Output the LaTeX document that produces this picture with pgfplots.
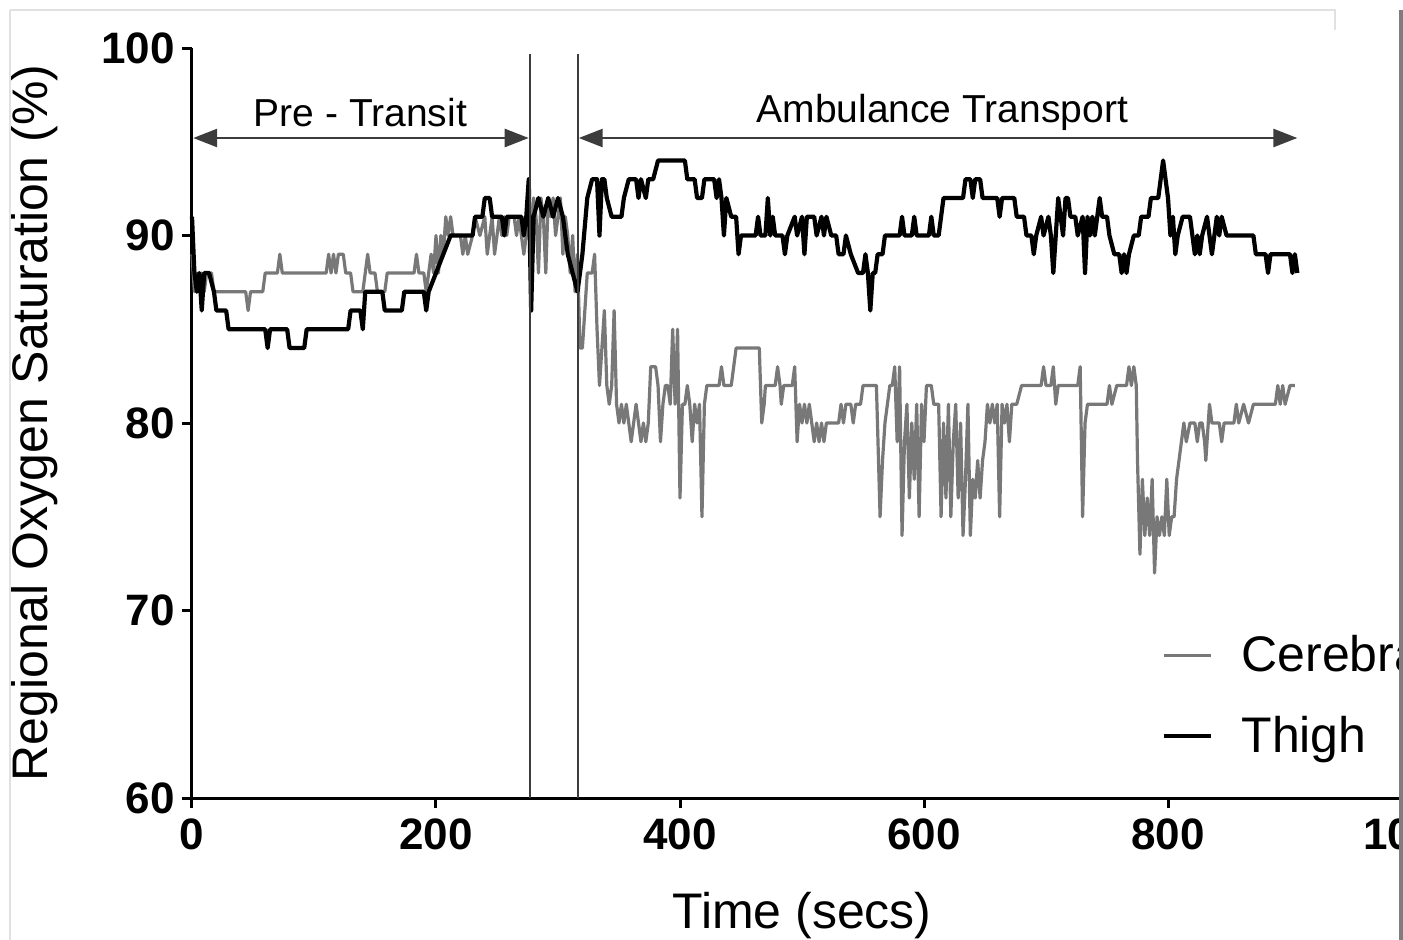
\documentclass[border=0pt]{standalone}
\usepackage{fontspec}
\setmainfont{Liberation Sans}
\usepackage{pgfplots}
\pgfplotsset{compat=1.18}
\usetikzlibrary{arrows.meta}
\definecolor{cergray}{RGB}{120,120,120}
\definecolor{vline}{RGB}{60,60,60}
\definecolor{framegray}{RGB}{225,225,225}
\definecolor{bargray}{RGB}{125,125,125}
\begin{document}
\begin{tikzpicture}
\useasboundingbox (-96pt,-70.5pt) rectangle (605.5pt,399pt);
\clip (-96pt,-70.5pt) rectangle (605.5pt,399pt);
\begin{axis}[
  at={(0pt,0pt)}, anchor=south west,
  scale only axis, width=610pt, height=375pt,
  xmin=0, xmax=1000, ymin=60, ymax=100,
  axis x line*=bottom, axis y line*=left,
  axis line style={line width=1.5pt, -},
  xtick={0,200,400,600,800,1000}, ytick={60,70,80,90,100},
  tick style={line width=1.5pt, black}, major tick length=5pt, tick align=outside,
  /pgf/number format/assume math mode=true,
  /pgf/number format/1000 sep={},
  ticklabel style={font=\fontsize{22}{24}\selectfont\bfseries},
  xticklabel style={yshift=-2pt},
  xlabel={Time (secs)}, ylabel={Regional Oxygen Saturation (\%)},
  label style={font=\fontsize{25}{28}\selectfont},
  xlabel style={at={(axis description cs:0.5,-0.157)}, anchor=center},
  ylabel style={at={(axis description cs:-0.1287,0.5)}, anchor=center},
  clip=false,
  legend style={at={(axis cs:795,68.9)}, anchor=north west, draw=none, fill=none,
    font=\fontsize{25}{27}\selectfont, row sep=17pt, inner sep=0pt},
  legend cell align=left,
  legend image code/.code={\draw[#1] (0pt,0pt) -- (23.5pt,0pt); \path (35.5pt,0pt);},
]
\addplot[cergray, line width=1.6pt, line join=round] coordinates {
(0,89)(2,87)(4,88)(6,87)(8,88)(10,87)(12,88)(16,88)(18,87)(20,87)(44,87)(46,86)(48,87)
(58,87)(60,88)(70,88)(72,89)(74,88)(110,88)(112,89)(114,88)(116,89)(118,88)(120,89)
(124,89)(126,88)(130,88)(132,87)(140,87)(142,88)(144,89)(146,88)(150,88)(152,87)(158,87)
(160,88)(182,88)(184,89)(186,88)(190,88)(192,87)(194,88)(196,89)(198,88)(200,90)(202,88)
(204,90)(206,89)(208,91)(210,90)(212,91)(214,90)(220,90)(222,89)(224,90)(226,89)(230,90)
(232,91)(236,90)(240,91)(242,89)(244,90)(246,91)(248,89)(250,90)(252,91)(254,90)(256,91)
(258,90)(260,91)(264,91)(266,90)(268,91)(270,90)(272,89)(274,90)(276,92)(278,88)(280,92)
(282,91)(284,88)(286,92)(288,91)(290,88)(292,92)(294,91)(296,92)(298,90)(300,91)(302,92)
(304,89)(306,91)(308,90)(310,88)(312,90)(314,87)(316,89)(318,84)(320,84)(322,86)(324,88)
(328,88)(330,89)(332,85)(334,82)(336,84)(338,86)(340,82)(342,81)(344,82)(346,86)(348,81)
(350,80)(352,81)(354,80)(356,81)(358,80)(360,79)(362,80)(364,81)(366,80)(368,79)(370,80)
(372,79)(374,80)(376,83)(380,83)(382,82)(384,79)(386,81)(388,82)(390,82)(392,81)(394,85)
(396,81)(398,85)(400,76)(402,81)(404,81)(406,82)(408,81)(410,79)(412,81)(414,80)(416,81)
(418,75)(420,81)(422,82)(432,82)(434,83)(436,82)(442,82)(444,83)(446,84)(465,84)(467,80)
(469,81)(470,82)(478,82)(480,83)(482,82)(483,81)(485,82)(492,82)(494,83)(496,79)(498,81)
(500,80)(502,81)(504,80)(506,81)(508,80)(510,79)(512,80)(514,79)(516,80)(518,79)(520,80)
(530,80)(532,81)(534,80)(536,81)(540,81)(542,80)(544,81)(548,81)(550,82)(561,82)(564,75)
(566,78)(568,80)(570,81)(572,82)(574,82)(576,83)(578,79)(580,83)(582,74)(584,79)(586,81)
(588,76)(590,80)(592,77)(594,81)(596,75)(598,81)(600,79)(602,82)(606,82)(608,81)(612,81)
(614,75)(616,80)(618,76)(620,81)(622,75)(624,79)(626,81)(628,76)(630,80)(632,74)(634,77)
(636,81)(638,74)(640,77)(642,76)(644,78)(646,76)(648,78)(650,79)(652,81)(654,80)(656,81)
(658,80)(660,81)(662,75)(664,81)(666,80)(668,81)(670,79)(672,81)(676,81)(680,82)(696,82)
(698,83)(700,82)(704,82)(706,83)(708,81)(710,82)(726,82)(728,83)(730,75)(732,80)(734,81)
(750,81)(752,82)(754,81)(758,82)(766,82)(768,83)(770,82)(772,83)(774,82)(775,78)(777,73)
(779,77)(781,74)(783,76)(785,74)(787,77)(789,72)(791,75)(793,74)(795,75)(797,74)(799,77)
(801,74)(803,75)(805,75)(807,77)(809,78)(811,79)(813,80)(815,79)(818,80)(822,80)(824,79)
(826,80)(828,80)(830,79)(831,78)(834,81)(836,80)(842,80)(844,79)(846,80)(854,80)(856,81)
(858,80)(862,81)(866,80)(870,81)(888,81)(890,82)(892,81)(894,82)(896,81)(900,82)(904,82)
};
\addlegendentry{Cerebral}
\addplot[black, line width=2.1pt, line join=round] coordinates {
(0,91)(2,88)(4,87)(6,88)(8,86)(10,88)(14,88)(18,87)(20,86)(28,86)(30,85)(60,85)(62,84)
(64,85)(78,85)(80,84)(92,84)(94,85)(128,85)(130,86)(138,86)(140,85)(142,87)(156,87)
(158,86)(172,86)(174,87)(190,87)(192,86)(194,87)(200,88)(206,89)(212,90)(230,90)(232,91)
(238,91)(240,92)(244,92)(246,91)(254,91)(256,90)(258,91)(270,91)(272,90)(274,91)(276,93)
(278,86)(280,91)(284,92)(288,91)(292,92)(296,91)(300,92)(304,91)(308,89)(312,88)(316,87)
(320,89)(324,92)(328,93)(332,93)(334,90)(336,93)(338,93)(340,92)(344,91)(352,91)(354,92)
(358,93)(364,93)(366,92)(368,93)(372,92)(374,93)(378,93)(382,94)(404,94)(406,93)(412,93)
(414,92)(418,92)(420,93)(428,93)(430,92)(432,93)(434,92)(436,90)(438,92)(442,91)(446,91)
(448,89)(450,90)(462,90)(464,91)(466,90)(470,90)(472,92)(474,90)(476,91)(478,90)(484,90)
(486,89)(488,90)(494,91)(496,90)(500,91)(502,89)(504,91)(510,91)(512,90)(516,91)(518,90)
(520,91)(524,90)(528,90)(530,89)(534,89)(536,90)(540,89)(546,88)(550,88)(552,89)(554,88)
(556,86)(558,88)(560,88)(562,89)(566,89)(568,90)(580,90)(582,91)(584,90)(590,90)(592,91)
(594,90)(604,90)(606,91)(608,90)(612,90)(614,91)(616,92)(632,92)(634,93)(638,93)(640,92)
(642,93)(646,93)(648,92)(660,92)(662,91)(664,92)(674,92)(676,91)(682,91)(684,90)(688,90)
(690,89)(692,90)(696,91)(698,90)(702,91)(704,90)(706,88)(708,90)(710,92)(712,91)(714,90)
(716,92)(718,92)(720,91)(724,91)(726,90)(730,91)(732,88)(734,91)(736,90)(738,91)(740,90)
(742,91)(744,92)(746,91)(750,91)(752,90)(756,89)(760,89)(762,88)(764,89)(766,88)(768,89)
(772,90)(776,90)(778,91)(784,91)(786,92)(792,92)(796,94)(798,93)(800,92)(802,90)(804,91)
(806,89)(808,90)(812,91)(818,91)(820,90)(822,89)(824,90)(826,89)(828,90)(832,91)(834,90)
(836,89)(838,90)(840,91)(842,90)(844,91)(848,90)(870,90)(872,89)(880,89)(882,88)(884,89)
(900,89)(902,88)(904,89)(906,88)
};
\addlegendentry{Thigh}
\draw[vline, line width=1pt] (axis cs:277,60) -- (axis cs:277,99.7);
\draw[vline, line width=1pt] (axis cs:316,60) -- (axis cs:316,99.7);
\draw[vline, line width=1.3pt, {Triangle[length=12pt,width=9pt]}-{Triangle[length=12pt,width=9pt]}]
  (axis cs:1,95.2) -- (axis cs:276,95.2);
\draw[vline, line width=1.3pt, {Triangle[length=12pt,width=9pt]}-{Triangle[length=12pt,width=9pt]}]
  (axis cs:317,95.2) -- (axis cs:906,95.2);
\node[font=\fontsize{19.5}{22}\selectfont, anchor=center] at (axis cs:138,96.55) {Pre - Transit};
\node[font=\fontsize{19.5}{22}\selectfont, anchor=center] at (axis cs:615,96.55) {Ambulance Transport};
\end{axis}
\draw[framegray, line width=1pt] (-91pt,394pt) -- (571.5pt,394pt) -- (571.5pt,384pt);
\draw[framegray, line width=1pt] (-91pt,394pt) -- (-91pt,-75pt);
\fill[bargray] (603.5pt,394pt) rectangle (608pt,-75pt);
\end{tikzpicture}
\end{document}
